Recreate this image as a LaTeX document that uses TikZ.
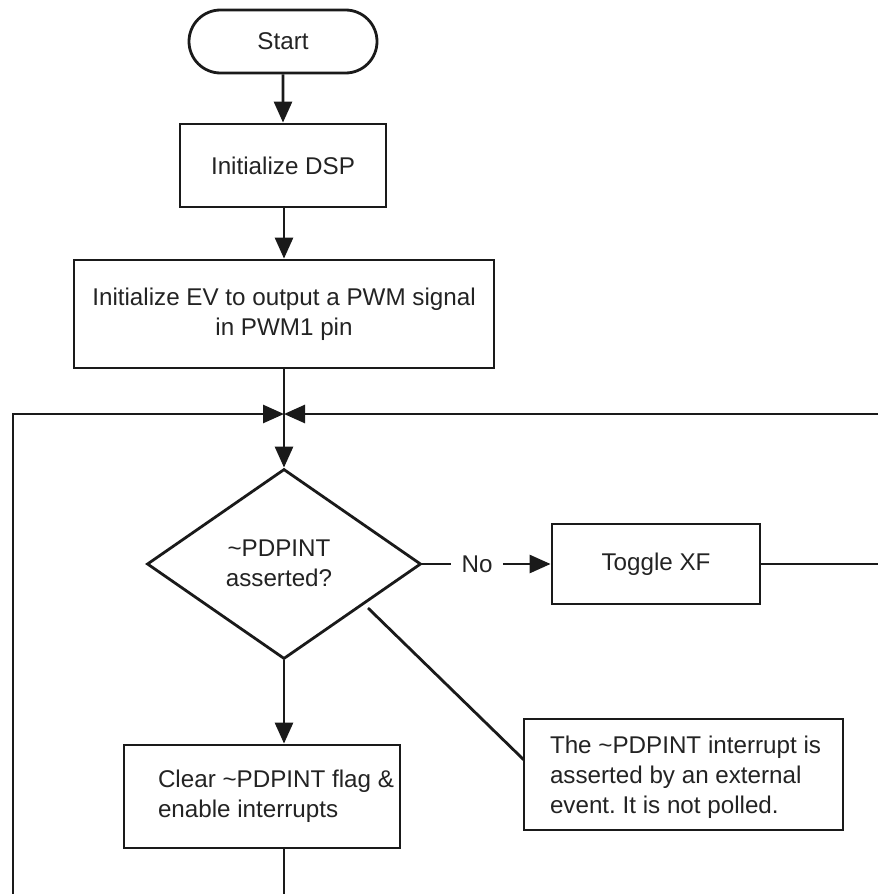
\documentclass[tikz,border=0pt]{standalone}
\usepackage{fontspec}
\setmainfont{Liberation Sans}
\usetikzlibrary{shapes.geometric,shapes.misc,arrows.meta,calc}
\definecolor{ink}{HTML}{1A1A1A}
\definecolor{txt}{HTML}{232323}
\frenchspacing
\begin{document}
\begin{tikzpicture}[x=1pt,y=-1pt,
  line width=2.8pt,
  every node/.style={font=\fontsize{24.2}{30}\selectfont, text=txt},
  box/.style={draw=ink, rectangle, inner sep=0pt},
  term/.style={draw=ink, rounded rectangle, inner sep=0pt},
  decis/.style={draw=ink, diamond, inner sep=0pt, align=center},
  conn/.style={draw=ink, line width=2.8pt},
  arr/.style={conn, -{Triangle[length=21pt,width=18pt]}},
  plain/.style={inner sep=0pt, align=left}
]
\useasboundingbox (0,0) rectangle (878,894);

\node[term, minimum width=188pt, minimum height=63pt] (start) at (283,41.5) {Start};
\node[box, minimum width=206pt, minimum height=83pt] (dsp) at (283,165.5) {Initialize DSP};
\node[box, minimum width=420pt, minimum height=108pt, align=center] (ev) at (284,314)
  {Initialize EV to output a PWM signal\\in PWM1 pin};
\coordinate (J) at (284,414);
\node[decis, minimum width=274pt, minimum height=190pt] (dec) at (284,564) {};
\node[plain, align=center] (dectxt) at (279,563) {\textasciitilde PDPINT\\asserted?};
\node[box, minimum width=208pt, minimum height=80pt] (toggle) at (656,564) {Toggle XF};
\node[plain, inner xsep=9pt] (no) at (477,564) {No};

\node[box, minimum width=319pt, minimum height=111pt] (note) at (683.5,774.5) {};
\node[plain, anchor=west] (notetxt) at ($(note.west)+(26,3)$)
  {The \textasciitilde PDPINT interrupt is\\asserted by an external\\event. It is not polled.};

\node[box, minimum width=276pt, minimum height=103pt] (clear) at (262,796.5) {};
\node[plain, anchor=west] (cleartxt) at ($(clear.west)+(34,0)$)
  {Clear \textasciitilde PDPINT flag \&\\enable interrupts};

\coordinate (Lb) at (13,894);
\coordinate (Lt) at (13,414);
\coordinate (Rt) at (878,414);
\coordinate (Rm) at (878,564);
\coordinate (Bot) at (284,894);
\coordinate (cs) at (368,608);
\coordinate (ce) at (524,760);

\draw[arr] (start) -- (dsp);
\draw[arr] (dsp.south -| J) -- (ev.north -| J);
\draw[conn] (ev.south -| J) -- (J);
\draw[arr] (J) -- (dec.north);
\draw[arr] (Lb) -- (Lt) -- (J);
\draw[arr] (Rt) -- (J);
\draw[conn] (dec.east) -- (no.west);
\draw[arr] (no.east) -- (toggle.west);
\draw[conn] (toggle.east) -- (Rm);
\draw[conn] (cs) -- (ce);
\draw[arr] (dec.south) -- (dec.south |- clear.north);
\draw[conn] (clear.south -| Bot) -- (Bot);
\end{tikzpicture}
\end{document}
